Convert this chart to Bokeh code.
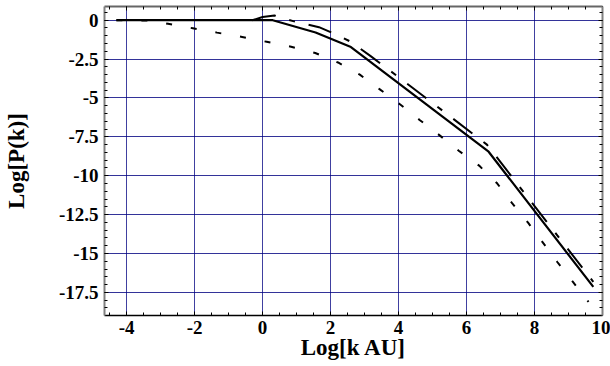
from bokeh.plotting import figure
from bokeh.models import (LinearAxis, SingleIntervalTicker, PrintfTickFormatter,
                          Range1d, Grid, CustomLabelingPolicy)
from bokeh.embed import file_html
from bokeh.resources import INLINE

# ---- data ----
solid_x = [-4.3, 0.3, 1.56, 2.6, 6.65, 9.73]
solid_y = [0.0, 0.0, -0.79, -1.73, -8.46, -17.15]

longdash_x = [-0.3, 0.0, 0.35, 0.9, 1.66, 2.2, 2.6, 3.19, 4.02, 6.6, 9.73]
longdash_y = [0.0, 0.2, 0.3, -0.06, -0.45, -0.96, -1.39, -2.33, -3.69, -8.0, -16.83]

dotted_x = [-4.3, -3.3, -2.78, -2.05, -1.34, -0.6, 0.12, 0.84, 1.55, 2.22, 2.86,
            3.45, 4.05, 4.63, 5.2, 5.78, 6.37, 6.9, 7.34, 7.81, 8.23, 8.67, 9.13, 9.59]
dotted_y = [0.0, -0.03, -0.23, -0.52, -0.8, -1.08, -1.39, -1.71, -2.11, -2.72, -3.5,
            -4.45, -5.42, -6.43, -7.39, -8.41, -9.35, -10.49, -11.77, -13.02, -14.25,
            -15.55, -16.83, -18.12]

x_label = "Log[k AU]"
y_label = "Log[P(k)]"

FONT = "Liberation Serif"

p = figure(width=610, height=366, output_backend="svg", toolbar_location=None,
           x_range=Range1d(-4.65, 10.0), y_range=Range1d(-18.99, 0.88),
           x_axis_type=None, y_axis_type=None,
           min_border_left=104, min_border_right=8, min_border_top=6,
           min_border_bottom=51)
p.outline_line_color = None
p.background_fill_color = "white"
p.border_fill_color = "white"

xticker = SingleIntervalTicker(interval=2, num_minor_ticks=4)
yticker = SingleIntervalTicker(interval=2.5, num_minor_ticks=5)
fmt = PrintfTickFormatter(format="%g")
hide_all = CustomLabelingPolicy(code="for (const i of indices) { indices.unset(i) }\nreturn indices")


def style(ax, show_labels, line_color, line_width):
    ax.major_tick_in = 4
    ax.major_tick_out = 0
    ax.minor_tick_in = 3
    ax.minor_tick_out = 0
    ax.major_tick_line_color = "black"
    ax.minor_tick_line_color = "black"
    ax.axis_line_color = line_color
    ax.axis_line_width = line_width
    if show_labels:
        ax.formatter = fmt
        ax.major_label_text_font = FONT
        ax.major_label_text_font_style = "bold"
        ax.major_label_text_font_size = "19px"
        ax.major_label_text_color = "black"
        ax.axis_label_text_font = FONT
        ax.axis_label_text_font_style = "bold"
        ax.axis_label_text_font_size = "23px"
        ax.axis_label_text_color = "black"
    else:
        ax.major_label_policy = hide_all
        ax.major_label_text_font_size = "0px"
        ax.major_label_standoff = 0
        ax.axis_label = None


xb = LinearAxis(ticker=xticker, axis_label=x_label)
style(xb, True, "black", 1.5)
xb.major_label_standoff = 5
xb.axis_label_standoff = -2
p.add_layout(xb, "below")

yl = LinearAxis(ticker=yticker, axis_label=y_label)
style(yl, True, "#808080", 2)
yl.major_label_standoff = 6
yl.axis_label_standoff = 27
p.add_layout(yl, "left")

xt = LinearAxis(ticker=xticker)
style(xt, False, "#666666", 2)
p.add_layout(xt, "above")

yr = LinearAxis(ticker=yticker)
style(yr, False, "#808080", 2)
p.add_layout(yr, "right")

p.add_layout(Grid(dimension=0, ticker=xticker, grid_line_color="navy",
                  grid_line_alpha=0.75, grid_line_width=1))
p.add_layout(Grid(dimension=1, ticker=yticker, grid_line_color="navy",
                  grid_line_alpha=0.8, grid_line_width=1))

p.line(dotted_x, dotted_y, line_color="black", line_width=2, line_dash="6 19")
p.line(longdash_x, longdash_y, line_color="black", line_width=2,
       line_dash="24 14 6 14")
p.line(solid_x, solid_y, line_color="black", line_width=2.2)

open("out.html", "w").write(file_html(p, INLINE))
